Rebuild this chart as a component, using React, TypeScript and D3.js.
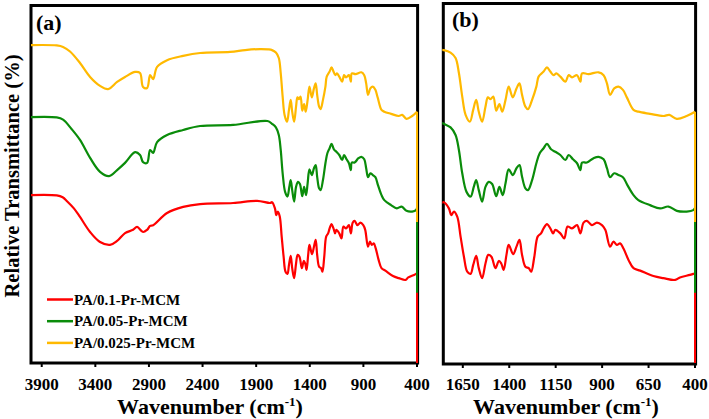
import React from 'react';
import * as d3 from 'd3';

type Pt = [number, number];

const seriesNames = ['PA/0.1-Pr-MCM', 'PA/0.05-Pr-MCM', 'PA/0.025-Pr-MCM'];
const seriesColors = ['#ff0000', '#0a8c0a', '#ffb900'];

const redSpectrum: Pt[] = [
  [4000, 46.9], [3760, 46.8], [3705, 46.3], [3664, 45.2], [3600, 43.2], [3543, 40.8], [3449, 36.6], [3356, 33.8], [3263, 33.0],
  [3197, 34.1], [3123, 36.3], [3048, 37.2], [3011, 38.0], [2955, 36.6], [2917, 37.2], [2889, 38.3],
  [2861, 38.5], [2731, 41.9], [2581, 43.6], [2423, 44.4], [2115, 44.7], [1891, 45.3], [1770, 44.7],
  [1752, 44.9], [1725, 43.2], [1712, 41.3], [1698, 42.3], [1680, 40.9], [1662, 35.3], [1644, 29.7],
  [1626, 25.5], [1608, 24.9], [1594, 27.4], [1578, 29.9], [1564, 26.5], [1546, 23.7], [1528, 27.8],
  [1513, 30.2], [1496, 29.7], [1474, 26.5], [1456, 28.5], [1443, 27.8], [1430, 26.0], [1415, 30.2],
  [1403, 33.0], [1379, 30.4], [1361, 32.5], [1345, 34.4], [1331, 30.2], [1313, 26.9], [1295, 26.5],
  [1282, 25.5], [1265, 29.7], [1247, 35.3], [1229, 36.2], [1215, 37.6], [1197, 38.8], [1179, 37.6],
  [1164, 36.2], [1152, 37.2], [1125, 36.2], [1104, 34.8], [1086, 38.1], [1062, 37.6], [1035, 38.5],
  [1017, 36.2], [1000, 39.2], [982, 39.7], [955, 38.5], [928, 39.2], [901, 38.5], [883, 37.2],
  [857, 32.5], [839, 33.9], [821, 33.0], [803, 33.4], [785, 32.0], [758, 28.8], [731, 26.5],
  [695, 25.8], [624, 24.3], [570, 23.7], [507, 23.2], [481, 23.9], [427, 24.6], [409, 24.9], [400, 25.1],
];

const greenSpectrum: Pt[] = [
  [4000, 68.7], [3760, 68.6], [3701, 68.0], [3620, 65.3], [3543, 62.3], [3449, 57.3], [3356, 53.4], [3272, 52.2], [3197, 53.9],
  [3123, 55.9], [3029, 58.9], [2983, 58.1], [2955, 56.1], [2917, 55.9], [2889, 59.5], [2861, 58.7],
  [2824, 61.7], [2731, 63.7], [2581, 65.1], [2423, 66.2], [2115, 66.5], [1795, 67.6], [1752, 66.8],
  [1716, 65.8], [1689, 63.7], [1671, 59.5], [1653, 53.0], [1630, 47.8], [1608, 46.5], [1591, 49.2],
  [1578, 51.1], [1564, 48.3], [1546, 45.1], [1528, 49.2], [1510, 50.6], [1492, 50.0], [1470, 46.6],
  [1453, 49.2], [1435, 46.9], [1420, 50.2], [1403, 54.1], [1381, 52.5], [1361, 54.4], [1345, 55.3],
  [1331, 52.0], [1313, 48.8], [1299, 48.3], [1277, 51.1], [1254, 55.8], [1236, 58.6], [1215, 60.0],
  [1197, 61.2], [1175, 59.7], [1152, 59.0], [1125, 58.1], [1098, 56.7], [1080, 58.1], [1057, 56.9],
  [1035, 55.8], [1017, 53.9], [1008, 56.0], [982, 56.0], [946, 57.2], [919, 57.6], [892, 56.9],
  [874, 54.4], [857, 51.9], [835, 53.0], [812, 52.5], [788, 51.9], [764, 49.7], [731, 46.9],
  [705, 45.5], [642, 44.1], [588, 43.2], [543, 43.7], [498, 42.5], [445, 42.3], [409, 42.7], [400, 43.3],
];

const yellowSpectrum: Pt[] = [
  [4000, 88.8], [3760, 88.7], [3701, 88.3], [3636, 87.0], [3543, 83.8], [3449, 79.9], [3356, 77.4], [3281, 76.5],
  [3197, 78.5], [3123, 79.9], [3029, 81.3], [2983, 81.0], [2955, 77.1], [2917, 76.8], [2889, 80.4],
  [2861, 79.3], [2824, 82.7], [2731, 84.6], [2581, 85.8], [2423, 86.6], [2143, 86.9], [2003, 87.4],
  [1863, 87.7], [1788, 87.6], [1752, 87.4], [1716, 86.7], [1689, 85.2], [1671, 81.0], [1653, 74.4],
  [1635, 69.3], [1612, 67.4], [1594, 70.7], [1578, 73.5], [1564, 70.2], [1546, 67.4], [1528, 71.6],
  [1515, 74.2], [1501, 73.7], [1486, 74.4], [1470, 70.5], [1453, 72.3], [1438, 70.2], [1420, 73.5],
  [1403, 77.2], [1381, 74.2], [1361, 76.7], [1345, 78.1], [1331, 74.9], [1313, 71.6], [1299, 70.9],
  [1277, 73.5], [1254, 77.2], [1242, 80.0], [1215, 81.4], [1197, 82.6], [1179, 81.4], [1161, 80.4],
  [1146, 80.9], [1125, 80.0], [1098, 78.6], [1080, 80.4], [1062, 79.8], [1035, 80.4], [1017, 78.6],
  [1008, 80.9], [973, 80.7], [919, 81.2], [892, 80.4], [874, 78.1], [857, 74.9], [835, 76.7],
  [812, 77.2], [788, 76.3], [767, 74.2], [731, 70.7], [705, 70.2], [642, 69.6], [570, 69.0],
  [538, 69.3], [498, 68.2], [445, 69.0], [400, 70.2],
];

const spectra: Pt[][] = [redSpectrum, greenSpectrum, yellowSpectrum];
const endDropValues = [0, 19.6, 39.4];

const ticksA = [3900, 3400, 2900, 2400, 1900, 1400, 900, 400];
const ticksB = [1650, 1400, 1150, 900, 650, 400];
const domainA: [number, number] = [4000, 400];
const domainB: [number, number] = [1755, 400];

const FONT = "'Times New Roman', 'Liberation Serif', serif";

const y = d3.scaleLinear().domain([0, 100]).range([363, 5]);

function Panel(props: {
  id: string;
  domain: [number, number];
  left: number;
  right: number;
  top: number;
  bottom: number;
  ticks: number[];
  label: string;
  labelX: number;
  labelY: number;
  titleX: number;
  legend?: boolean;
}) {
  const { id, domain, left, right, top, bottom, ticks, label, labelX, labelY, titleX, legend } = props;
  const x = d3.scaleLinear().domain(domain).range([left, right]);
  const line = d3
    .line<Pt>()
    .x((d) => x(d[0]))
    .y((d) => y(d[1]))
    .curve(d3.curveCatmullRom.alpha(0.5));
  const straight = d3
    .line<Pt>()
    .x((d) => x(d[0]))
    .y((d) => y(d[1]));
  return (
    <g>
      <defs>
        <clipPath id={id}>
          <rect x={left - 1} y={top} width={right - left + 2} height={bottom - top} />
        </clipPath>
      </defs>
      <rect
        x={left}
        y={top}
        width={right - left + 0.6}
        height={bottom - top}
        fill="none"
        stroke="#000"
        strokeWidth={3}
      />
      <g clipPath={`url(#${id})`}>
        {spectra.map((s, i) => (
          <g key={i}>
            <path d={line(s) || ''} fill="none" stroke={seriesColors[i]} strokeWidth={2.2} strokeLinejoin="round" />
            <path
              d={straight([s[s.length - 1], [s[s.length - 1][0], endDropValues[i]]]) || ''}
              fill="none"
              stroke={seriesColors[i]}
              strokeWidth={2}
            />
          </g>
        ))}
      </g>
      {ticks.map((t) => (
        <g key={t}>
          <line x1={x(t)} x2={x(t)} y1={bottom} y2={bottom + 4} stroke="#000" strokeWidth={2} />
          <text
            x={x(t)}
            y={390}
            textAnchor="middle"
            fontFamily={FONT}
            fontWeight="bold"
            fontSize={17}
            fill="#000"
          >
            {t}
          </text>
        </g>
      ))}
      <text x={titleX} y={414} textAnchor="middle" fontFamily={FONT} fontWeight="bold" fontSize={22} fill="#000">
        Wavenumber (cm
        <tspan fontSize={13} dy={-8}>-1</tspan>
        <tspan dy={8}>)</tspan>
      </text>
      <text x={labelX} y={labelY} fontFamily={FONT} fontWeight="bold" fontSize={22} fill="#000">
        {label}
      </text>
      {legend &&
        seriesNames.map((n, i) => (
          <g key={n}>
            <line x1={47} x2={73} y1={299.5 + i * 21.7} y2={299.5 + i * 21.7} stroke={seriesColors[i]} strokeWidth={2.5} />
            <text x={74} y={304.5 + i * 21.7} fontFamily={FONT} fontWeight="bold" fontSize={15} fill="#000">
              {n}
            </text>
          </g>
        ))}
    </g>
  );
}

export default function App() {
  return (
    <svg
      width={709}
      height={419}
      viewBox="0 0 709 419"
      style={{ position: 'absolute', left: 0, top: 0, background: '#fff' }}
    >
      <rect x={0} y={0} width={709} height={419} fill="#fff" />
      <Panel
        id="clipA"
        domain={domainA}
        left={31}
        right={417}
        top={5.5}
        bottom={363}
        ticks={ticksA}
        label="(a)"
        labelX={36}
        labelY={30}
        titleX={210}
        legend
      />
      <Panel
        id="clipB"
        domain={domainB}
        left={443.3}
        right={695}
        top={3.5}
        bottom={364}
        ticks={ticksB}
        label="(b)"
        labelX={452}
        labelY={27}
        titleX={566}
      />
      <text
        transform="translate(19,176) rotate(-90)"
        textAnchor="middle"
        fontFamily={FONT}
        fontWeight="bold"
        fontSize={20.5}
        fill="#000"
      >
        Relative Transmittance (%)
      </text>
    </svg>
  );
}
